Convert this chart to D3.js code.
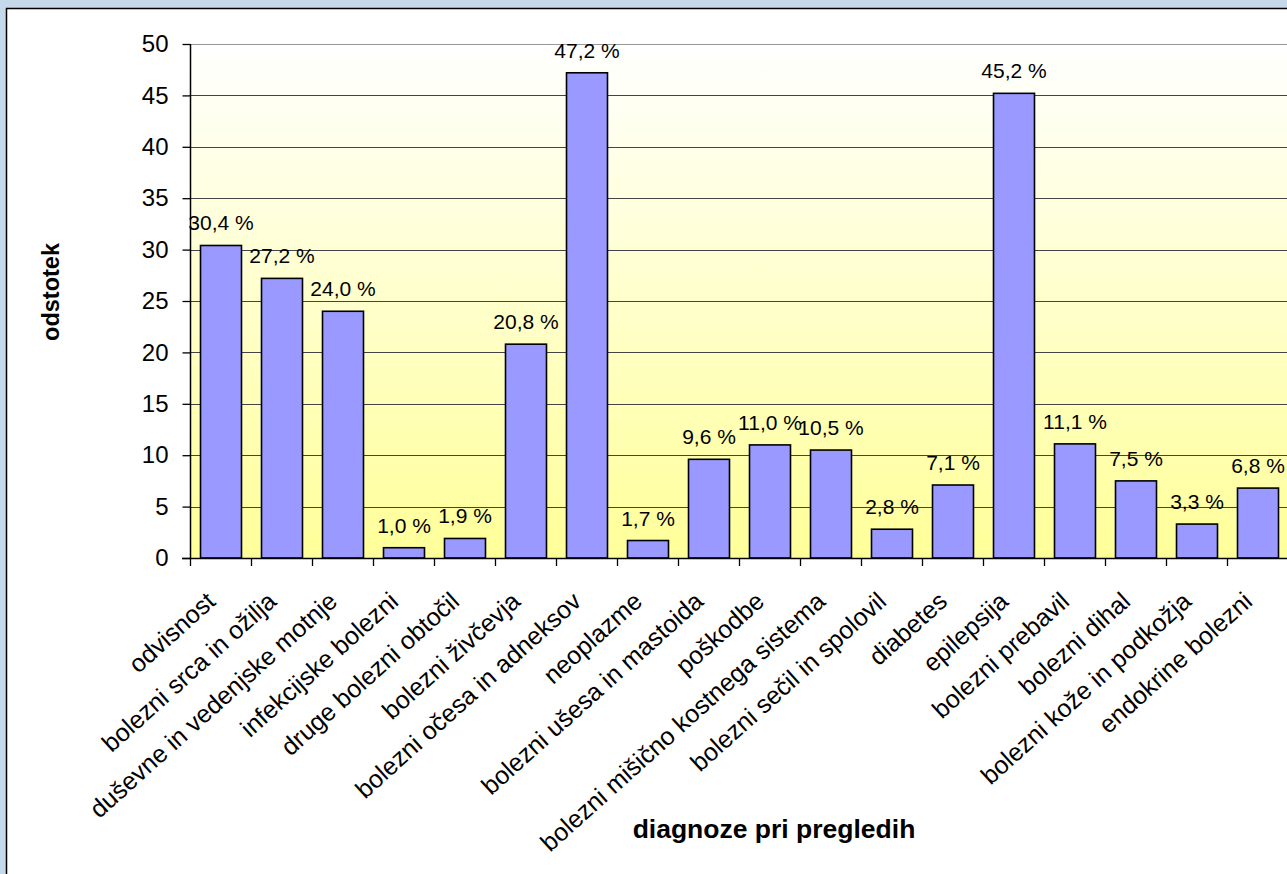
<!DOCTYPE html>
<html><head><meta charset="utf-8">
<script src="https://cdn.jsdelivr.net/npm/d3@7/dist/d3.min.js"></script>
<style>body{margin:0;background:#c6d9ea;overflow:hidden}svg{display:block}text{font-family:"Liberation Sans",Arial,sans-serif}</style>
</head><body>
<script>
const categories = ["odvisnost","bolezni srca in ožilja","duševne in vedenjske motnje","infekcijske bolezni","druge bolezni obtočil","bolezni živčevja","bolezni očesa in adneksov","neoplazme","bolezni ušesa in mastoida","poškodbe","bolezni mišično kostnega sistema","bolezni sečil in spolovil","diabetes","epilepsija","bolezni prebavil","bolezni dihal","bolezni kože in podkožja","endokrine bolezni"];
const values = [30.4,27.2,24.0,1.0,1.9,20.8,47.2,1.7,9.6,11.0,10.5,2.8,7.1,45.2,11.1,7.5,3.3,6.8];
const yTicks = [0,5,10,15,20,25,30,35,40,45,50];
const yTitle = "odstotek";
const xTitle = "diagnoze pri pregledih";

const W = 1287, H = 874;
const svg = d3.select("body").append("svg").attr("width", W).attr("height", H);
const defs = svg.append("defs");
const g1 = defs.append("linearGradient").attr("id","bg").attr("x1",0).attr("y1",0).attr("x2",0).attr("y2",1);
g1.append("stop").attr("offset","0%").attr("stop-color","#ffffff");
g1.append("stop").attr("offset","100%").attr("stop-color","#ffff99");

svg.append("rect").attr("x",6.5).attr("y",8.5).attr("width",W+20).attr("height",H+20)
  .attr("fill","#fff").attr("stroke","#000").attr("stroke-width",1.5);

const x0 = 190.5, x1 = 190.5 + 18*61;
const x = d3.scaleBand().domain(categories).range([x0, x1]).paddingInner(0.328).paddingOuter(0.164);
const y = d3.scaleLinear().domain([0,50]).range([558, 44]);

svg.append("rect").attr("x",x0).attr("y",y(50)).attr("width",1100).attr("height",y(0)-y(50)).attr("fill","url(#bg)");

// gridlines
svg.append("g").selectAll("line").data(yTicks.filter(d=>d>0)).join("line")
  .attr("x1",x0).attr("x2",1290).attr("y1",d=>Math.round(y(d))+0.5).attr("y2",d=>Math.round(y(d))+0.5)
  .attr("stroke",d=>d===50?"#999":"#444").attr("stroke-width",1.2);

// bars
svg.append("g").selectAll("rect").data(values).join("rect")
  .attr("x",(d,i)=>x(categories[i])).attr("width",x.bandwidth())
  .attr("y",d=>y(d)).attr("height",d=>y(0)-y(d))
  .attr("fill","#9999ff").attr("stroke","#000").attr("stroke-width",1.6);

// data labels
svg.append("g").selectAll("text").data(values).join("text")
  .attr("x",(d,i)=>x(categories[i])+x.bandwidth()/2).attr("y",d=>y(d)-15)
  .attr("text-anchor","middle").attr("font-size",21).attr("fill","#000")
  .text(d=>d.toFixed(1).replace(".",",")+" %");

// y axis
const ya = svg.append("g").attr("transform",`translate(${x0},0)`)
  .call(d3.axisLeft(y).tickValues(yTicks).tickSize(8).tickPadding(14).tickFormat(d3.format("d")));
ya.select(".domain").attr("stroke","#000").attr("stroke-width",1.5).attr("d","M0,"+y(50)+"V"+y(0));
ya.selectAll(".tick line").attr("stroke","#000").attr("stroke-width",1.3);
ya.selectAll(".tick text").attr("font-size",24).attr("font-family","Liberation Sans, Arial, sans-serif").attr("fill","#000");

// x axis
const xa = svg.append("g").attr("transform","translate(0,558)");
xa.append("line").attr("x1",182).attr("x2",1290).attr("y1",0.5).attr("y2",0.5).attr("stroke","#000").attr("stroke-width",1.5);
const step = x.step();
xa.selectAll("line.t").data(d3.range(categories.length+1)).join("line").attr("class","t")
  .attr("x1",i=>x0+i*step).attr("x2",i=>x0+i*step).attr("y1",0).attr("y2",8)
  .attr("stroke","#000").attr("stroke-width",1.3);
xa.selectAll("text").data(categories).join("text")
  .attr("transform",d=>`translate(${x(d)+x.bandwidth()/2-10},${39}) rotate(-42)`)
  .attr("text-anchor","end").attr("dy","0.35em").attr("font-size",25).attr("fill","#000")
  .text(d=>d);

// titles
svg.append("text").attr("transform","translate(59,292) rotate(-90)").attr("text-anchor","middle")
  .attr("font-size",23.5).attr("font-weight","bold").text(yTitle);
svg.append("text").attr("x",774).attr("y",838).attr("text-anchor","middle")
  .attr("font-size",26.5).attr("font-weight","bold").text(xTitle);
</script>
</body></html>
